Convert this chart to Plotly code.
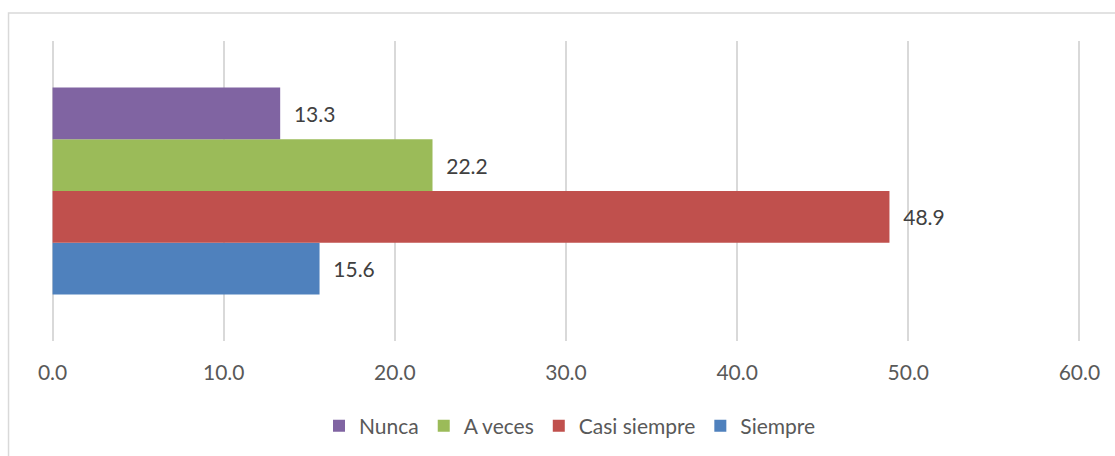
import plotly.graph_objects as go

categories = ["Nunca", "A veces", "Casi siempre", "Siempre"]
values = [13.3, 22.2, 48.9, 15.6]
colors = ["#8064A2", "#9BBB59", "#C0504D", "#4F81BD"]
tick_vals = [0, 10, 20, 30, 40, 50, 60]
tick_text = ["0.0", "10.0", "20.0", "30.0", "40.0", "50.0", "60.0"]

W, H = 1115, 456
X0PX, X60PX = 53, 1079          # pixel positions of 0 and 60
PAD = 0.15                      # axis padding (data units) so edge gridlines draw
ppu = (X60PX - X0PX) / 60.0
L = X0PX - PAD * ppu
R = W - (X60PX + PAD * ppu)
T, B = 41, 115
pw, ph = W - L - R, H - T - B
FONT = "Lato"
FS = 21

fig = go.Figure()
# plotly places grouped horizontal bars bottom-up, so add in reverse
for name, v, c in reversed(list(zip(categories, values, colors))):
    fig.add_trace(go.Bar(
        y=["g"], x=[v], name=name, orientation="h",
        marker=dict(color=c, line=dict(width=0)),
        text=[v], texttemplate="\u00a0\u00a0%{x:.1f}", textposition="outside",
        textfont=dict(color="#404040", size=FS, family=FONT), cliponaxis=False,
    ))

def px_x(p):
    return (p - L) / pw

def px_y(p):
    return (H - B - p) / ph

fig.update_layout(
    width=W, height=H,
    margin=dict(l=L, r=R, t=T, b=B, autoexpand=False),
    paper_bgcolor="white", plot_bgcolor="white",
    barmode="group", bargap=0.31, bargroupgap=0,
    font=dict(family=FONT, color="#595959", size=FS),
    showlegend=True,
    legend=dict(orientation="h", traceorder="reversed", x=px_x(570), xanchor="center",
                y=px_y(426), yanchor="middle", font=dict(size=FS, color="#595959"),
                itemwidth=30, tracegroupgap=0),
    xaxis=dict(range=[-PAD, 60 + PAD], tickvals=tick_vals, ticktext=tick_text,
               showgrid=True, gridcolor="#d9d9d9", gridwidth=1.5,
               zeroline=False, showline=False, ticks="", ticklabelstandoff=17,
               fixedrange=True),
    yaxis=dict(showticklabels=False, showgrid=False, zeroline=False, showline=False,
               fixedrange=True),
    shapes=[dict(type="rect", xref="paper", yref="paper",
                 x0=px_x(9), x1=px_x(W + 20), y0=px_y(H + 20), y1=px_y(13),
                 line=dict(color="#d9d9d9", width=1.5), fillcolor="rgba(0,0,0,0)",
                 layer="below")],
)

fig.write_html("out.html", config={"displayModeBar": False},
               post_script="document.body.style.margin='0';document.body.style.overflow='hidden';")
